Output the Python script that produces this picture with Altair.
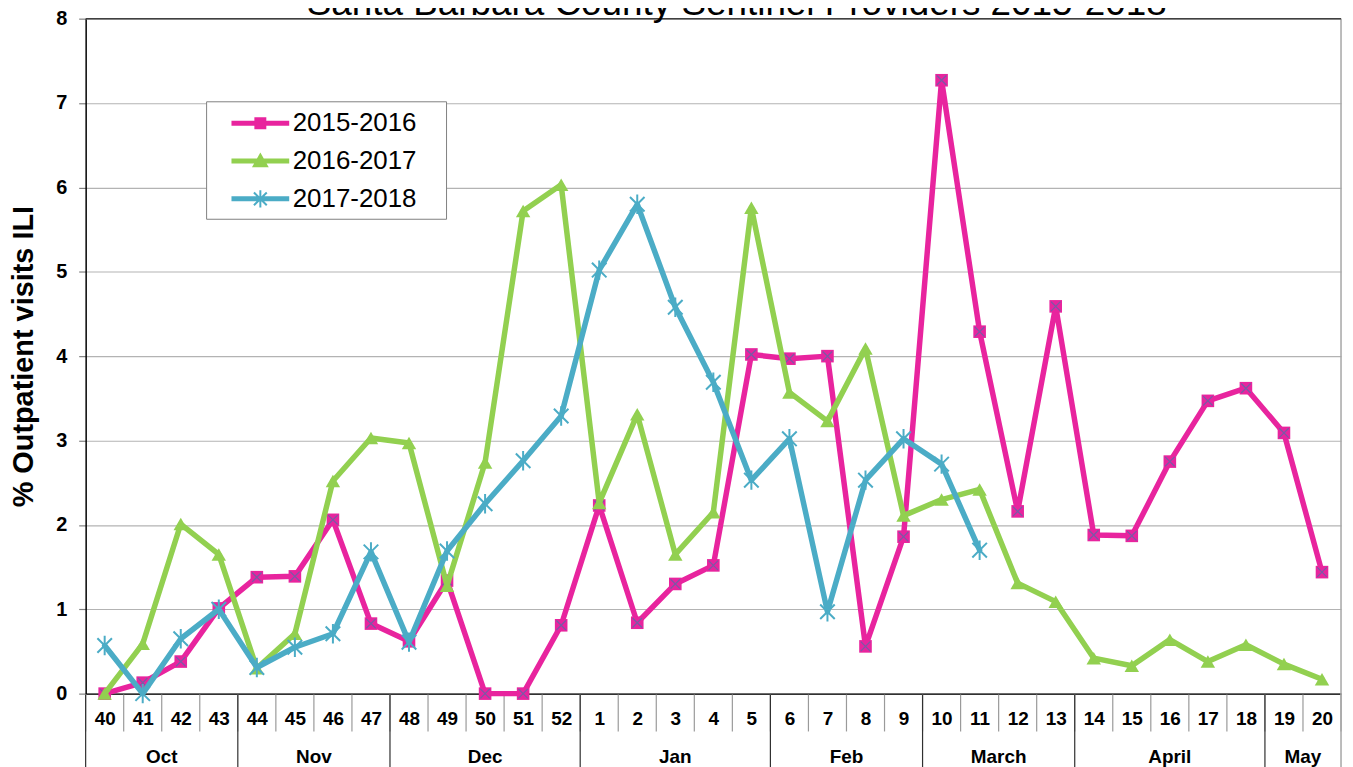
import altair as alt
import pandas as pd

# ---------------- data ----------------
weeks = ["40", "41", "42", "43", "44", "45", "46", "47", "48", "49", "50", "51", "52",
         "1", "2", "3", "4", "5", "6", "7", "8", "9", "10", "11", "12", "13", "14",
         "15", "16", "17", "18", "19", "20"]

season_names = ["2015-2016", "2016-2017", "2017-2018"]

s1516 = [0.0, 0.13, 0.38, 1.01, 1.38, 1.39, 2.06, 0.83, 0.62, 1.34, 0.0, 0.0, 0.81,
         2.23, 0.84, 1.30, 1.52, 4.02, 3.97, 4.00, 0.56, 1.86,
         7.27, 4.29, 2.16, 4.59, 1.88, 1.87, 2.75, 3.47, 3.62, 3.09, 1.44]
s1617 = [0.0, 0.59, 2.01, 1.65, 0.30, 0.71, 2.52, 3.03, 2.97, 1.28, 2.74, 5.72, 6.03,
         2.26, 3.31, 1.65, 2.15, 5.76, 3.57, 3.23, 4.09, 2.11,
         2.30, 2.42, 1.31, 1.09, 0.42, 0.33, 0.64, 0.38, 0.58, 0.35, 0.17]
s1718 = [0.57, 0.0, 0.65, 1.00, 0.31, 0.55, 0.71, 1.68, 0.61, 1.69, 2.25, 2.76, 3.29,
         5.02, 5.80, 4.58, 3.69, 2.53, 3.02, 0.97, 2.53, 3.02,
         2.72, 1.70]

month_names = ["Oct", "Nov", "Dec", "Jan", "Feb", "March", "April", "May"]
month_first = ["40", "44", "48", "1", "6", "10", "14", "19"]
month_last = ["43", "47", "52", "5", "9", "13", "18", "20"]

title_text = "Santa Barbara County Sentinel Providers 2015-2018"
y_title = "% Outpatient visits ILI"

colors = ["#E8249E", "#92D050", "#4BACC6"]
x_mark_color = "#7A5AA6"
FONT = "Liberation Sans"

# ---------------- tables ----------------
rows = []
for name, vals in zip(season_names, [s1516, s1617, s1718]):
    for i, v in enumerate(vals):
        rows.append({"idx": i, "week": weeks[i], "season": name, "value": v})
df = pd.DataFrame(rows)

n = len(weeks)
week_bounds = pd.DataFrame({"b": [i - 0.5 for i in range(n + 1)]})
m_first_idx = [weeks.index(w) for w in month_first]
m_last_idx = [weeks.index(w) for w in month_last]
months_df = pd.DataFrame({
    "month": month_names,
    "center": [(a + b) / 2 for a, b in zip(m_first_idx, m_last_idx)],
})
month_bounds = pd.DataFrame({"b": [a - 0.5 for a in m_first_idx]})
right_edge = pd.DataFrame({"b": [n - 0.5]})
top_df = pd.DataFrame({"v": [8]})
title_df = pd.DataFrame({"t": [title_text]})

# ---------------- scales / axes ----------------
x_scale = alt.Scale(domain=[-0.5, n - 0.5], nice=False, zero=False)
y_scale = alt.Scale(domain=[0, 8], nice=False, zero=True)

label_expr = "[" + ",".join("'%s'" % w for w in weeks) + "][datum.value]"

x_axis = alt.Axis(
    values=list(range(n)), labelExpr=label_expr, title=None, grid=False,
    ticks=False, tickSize=0, labelPadding=25, labelBaseline="middle",
    labelFont=FONT, labelFontSize=19, labelFontWeight="bold", labelColor="black",
    labelFlush=False, labelOverlap=False, labelBound=False,
    domainColor="black", domainWidth=1.5,
)
y_axis = alt.Axis(
    values=list(range(0, 9)), format="d", title=y_title, grid=True,
    gridColor="#b3b3b3", gridWidth=1.2,
    tickColor="#808080", tickSize=7, tickWidth=1.2, labelPadding=12,
    labelFont=FONT, labelFontSize=20, labelFontWeight="bold", labelColor="black",
    domainColor="black", domainWidth=1.5,
    titleFont=FONT, titleFontSize=29, titleFontWeight="bold", titleColor="black",
    titleX=-62, titleY=339, titleAngle=270, titleAlign="center", titleBaseline="middle",
)


def X(field):
    return alt.X(field, scale=x_scale, axis=x_axis)


def Y(field):
    return alt.Y(field, scale=y_scale, axis=y_axis)


# legend symbol paths (line + marker); unit = sqrt(size)/2 = 14px, stroked 2px.
P1 = ("M0.32,-0.107L4.32,-0.107L4.32,0.107L0.32,0.107Z "
      "M1.963,-0.357L2.677,-0.357L2.677,0.357L1.963,0.357Z")
P2 = ("M0.32,-0.107L4.32,-0.107L4.32,0.107L0.32,0.107Z "
      "M2.32,-0.47L2.8,0.38L1.84,0.38Z")
P3 = ("M0.32,-0.107L4.32,-0.107L4.32,0.107L0.32,0.107Z "
      "M2.32,-0.62L2.32,0.62M1.86,-0.46L2.78,0.46M1.86,0.46L2.78,-0.46")

legend = alt.Legend(
    title=None, orient="none", legendX=121, legendY=83,
    labelFont=FONT, labelFontSize=26, labelColor="black", labelOffset=50,
    labelExpr="datum.label + '\u00a0\u00a0\u00a0\u200b'",
    symbolSize=784, symbolStrokeWidth=2, symbolOpacity=1, rowPadding=10, padding=7,
    fillColor="white", strokeColor="#808080",
)

base = alt.Chart(df)

grid_top = alt.Chart(top_df).mark_rule(color="#404040", strokeWidth=1.5).encode(
    y=Y("v:Q")
)

legend_layer = base.transform_filter("false").mark_point(filled=True, size=784).encode(
    x=X("idx:Q"),
    y=Y("value:Q"),
    fill=alt.Fill("season:N", scale=alt.Scale(domain=season_names, range=colors), legend=legend),
    stroke=alt.Stroke("season:N", scale=alt.Scale(domain=season_names, range=colors), legend=legend),
    shape=alt.Shape("season:N", scale=alt.Scale(domain=season_names, range=[P1, P2, P3]), legend=legend),
)

layers = [grid_top]
marker_specs = [
    dict(shape="square", size=160, filled=True),
    dict(shape="triangle-up", size=210, filled=True),
    dict(shape="M0,-1L0,1M-0.75,-0.75L0.75,0.75M-0.75,0.75L0.75,-0.75", size=380,
         filled=False, strokeWidth=2),
]
for k, name in enumerate(season_names):
    sub = base.transform_filter(alt.datum.season == name)
    line = sub.mark_line(strokeWidth=5.5, strokeJoin="round", strokeCap="round",
                         color=colors[k]).encode(
        x=X("idx:Q"), y=Y("value:Q"), order="idx:Q",
    )
    spec = marker_specs[k]
    if spec["filled"]:
        pts = sub.mark_point(shape=spec["shape"], size=spec["size"], filled=True,
                             color=colors[k], opacity=1)
    else:
        pts = sub.mark_point(shape=spec["shape"], size=spec["size"], filled=False,
                             color=colors[k], strokeWidth=spec["strokeWidth"], opacity=1)
    pts = pts.encode(x=X("idx:Q"), y=Y("value:Q"))
    layers += [line, pts]
    if k == 0:
        xs = sub.mark_point(shape="M-1,-1L1,1M1,-1L-1,1", size=90, filled=False,
                            color=x_mark_color, strokeWidth=1.3, opacity=1).encode(
            x=X("idx:Q"), y=Y("value:Q"))
        layers.append(xs)

week_sep = alt.Chart(week_bounds).mark_rule(color="#9a9a9a", strokeWidth=1.2).encode(
    x=X("b:Q"), y=alt.value(679), y2=alt.value(716)
)
month_sep = alt.Chart(month_bounds).mark_rule(color="#303030", strokeWidth=1.2).encode(
    x=X("b:Q"), y=alt.value(679), y2=alt.value(800)
)
right_sep = alt.Chart(right_edge).mark_rule(color="#a6a6a6", strokeWidth=1.5).encode(
    x=X("b:Q"), y=alt.value(0), y2=alt.value(800)
)
month_text = alt.Chart(months_df).mark_text(
    font=FONT, fontSize=19, fontWeight="bold", color="black", baseline="middle"
).encode(
    x=X("center:Q"), y=alt.value(742), text="month:N"
)
title_mark = alt.Chart(title_df).mark_text(
    font=FONT, fontSize=37, color="black", align="center", baseline="alphabetic"
).encode(x=alt.value(654), y=alt.value(-4), text="t:N")

chart = alt.layer(
    week_sep, month_sep, right_sep, *layers, legend_layer, month_text, title_mark
).properties(
    width=1261, height=678,
    autosize=alt.AutoSizeParams(type="none"),
    padding={"left": 78, "top": 9, "right": 4, "bottom": 72},
    background="white",
).configure_view(stroke="transparent")

chart.save("out.html", embed_options={"renderer": "svg", "actions": False})
